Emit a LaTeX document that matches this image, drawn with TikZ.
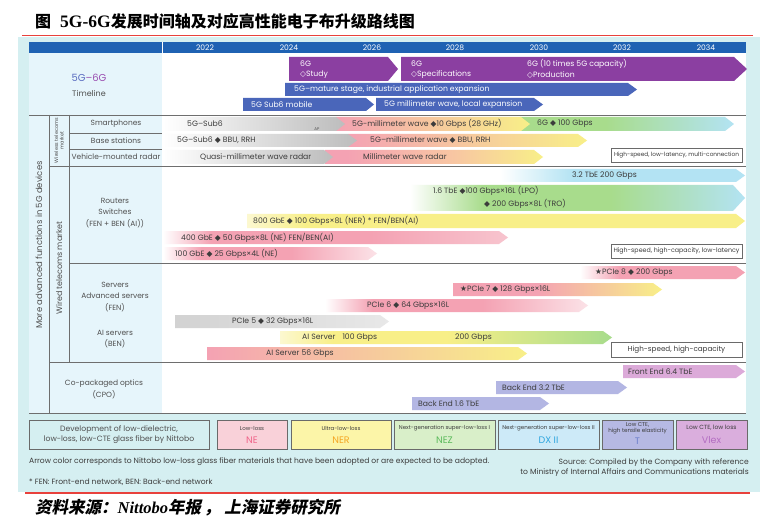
\documentclass[tikz,border=0pt]{standalone}
\usepackage{fontspec}
\setmainfont{Poppins}
\newfontfamily\symf{DejaVu Sans}
\newfontfamily\cjk{Noto Sans CJK SC}
\newfontfamily\cjksl[FakeSlant=0.2]{Noto Sans CJK SC}
\newfontfamily\tserif{Liberation Serif}
\definecolor{hdrblue}{HTML}{1F62B3}
\definecolor{bgcyan}{HTML}{D5EFF1}
\definecolor{panel}{HTML}{E6F5FB}
\definecolor{tpurple}{HTML}{8B3FA1}
\definecolor{tblue}{HTML}{4A66BA}
\definecolor{txt}{HTML}{3C3C3C}
\definecolor{sidetxt}{HTML}{505050}
\definecolor{lineg}{HTML}{6E6E6E}
\definecolor{boxg}{HTML}{6A6A6A}
\definecolor{grayA}{HTML}{BDBDBD}
\definecolor{grayB}{HTML}{D2D2D2}
\definecolor{grayC}{HTML}{E8E8E8}
\definecolor{pinkA}{HTML}{F4A2B3}
\definecolor{pinkL}{HTML}{F7C4CE}
\definecolor{pinkVL}{HTML}{FBE2E7}
\definecolor{peach}{HTML}{F8C7A2}
\definecolor{yellowA}{HTML}{F8EF88}
\definecolor{yellowP}{HTML}{FCF8D0}
\definecolor{greenA}{HTML}{A8DC8C}
\definecolor{cyanA}{HTML}{B3E3F3}
\definecolor{lavA}{HTML}{B3B6E3}
\definecolor{vlexA}{HTML}{DCAAD9}
\definecolor{legNE}{HTML}{F9D1D9}
\definecolor{legNER}{HTML}{FCF5A8}
\definecolor{legNEZ}{HTML}{D9EFC9}
\definecolor{legDX}{HTML}{CDEAF8}
\definecolor{legT}{HTML}{B6B9E3}
\definecolor{legV}{HTML}{DAAEDD}
\definecolor{cNE}{HTML}{F0658A}
\definecolor{cNER}{HTML}{F5A623}
\definecolor{cNEZ}{HTML}{5DBB5D}
\definecolor{cDX}{HTML}{2FA6DF}
\definecolor{cT}{HTML}{6C7FCB}
\definecolor{cV}{HTML}{B36DC2}
\definecolor{c5G}{HTML}{5A6CC0}
\definecolor{c6G}{HTML}{9A4EB0}
\definecolor{redl}{HTML}{E8413C}
\pgfdeclarehorizontalshading{shBlue}{100bp}{color(0bp)=(white); color(25bp)=(white); color(40bp)=(cyanA); color(100bp)=(cyanA)}
\pgfdeclarehorizontalshading{shLPO}{100bp}{color(0bp)=(white); color(25bp)=(white); color(36bp)=(greenA); color(55bp)=(greenA); color(75bp)=(cyanA); color(100bp)=(cyanA)}
\pgfdeclarehorizontalshading{shNER}{100bp}{color(0bp)=(yellowP); color(25bp)=(yellowP); color(31bp)=(yellowA); color(100bp)=(yellowA)}
\pgfdeclarehorizontalshading{shNEa}{100bp}{color(0bp)=(white); color(25bp)=(white); color(32bp)=(pinkA); color(55bp)=(pinkA); color(75bp)=(pinkL); color(100bp)=(pinkL)}
\pgfdeclarehorizontalshading{shNEb}{100bp}{color(0bp)=(white); color(25bp)=(white); color(34bp)=(pinkA); color(55bp)=(pinkA); color(75bp)=(pinkVL); color(100bp)=(pinkVL)}
\pgfdeclarehorizontalshading{shPe}{100bp}{color(0bp)=(white); color(25bp)=(white); color(37bp)=(pinkA); color(100bp)=(pinkA)}
\pgfdeclarehorizontalshading{shPs}{100bp}{color(0bp)=(pinkA); color(45bp)=(pinkA); color(75bp)=(yellowA); color(100bp)=(yellowA)}
\pgfdeclarehorizontalshading{shAI}{100bp}{color(0bp)=(yellowP); color(25bp)=(yellowP); color(33bp)=(yellowA); color(50bp)=(yellowA); color(75bp)=(greenA); color(100bp)=(greenA)}
\pgfdeclarehorizontalshading{shSix}{100bp}{color(0bp)=(greenA); color(45bp)=(greenA); color(75bp)=(cyanA); color(100bp)=(cyanA)}
\pgfdeclarehorizontalshading{shPY}{100bp}{color(0bp)=(pinkA); color(30bp)=(pinkA); color(55bp)=(peach); color(75bp)=(yellowA); color(100bp)=(yellowA)}
\newcommand\dia{{\symf ◆}}
\newcommand\odia{{\symf ◇}}
\newcommand\mystar{{\symf ★}}
\newcommand\chev[6][]{\path[#1] (#2,#3) -- ({#4-#6},#3) -- (#4,{(#3+#5)/2}) -- ({#4-#6},#5) -- (#2,#5) -- cycle;}
\tikzset{
  lbl/.style={inner sep=0, anchor=west, font=\fontsize{7.7}{9}\selectfont, text=txt},
  wlbl/.style={lbl, text=white},
  side/.style={inner sep=0, align=center, font=\fontsize{7.5}{11.8}\selectfont, text=sidetxt},
  yr/.style={inner sep=0, font=\fontsize{7.6}{9}\selectfont, text=white},
  sepl/.style={draw=lineg, line width=0.8},
  notebox/.style={draw=boxg, fill=white, line width=0.6},
  notetxt/.style={inner sep=0, font=\fontsize{6.3}{7}\selectfont, text=txt},
  legbox/.style={draw=boxg, line width=0.8},
  legsm/.style={inner sep=0, align=center, font=\fontsize{5.5}{6.4}\selectfont, text=txt},
  legbig/.style={inner sep=0, font=\fontsize{9.5}{10}\selectfont},
  foot/.style={inner sep=0, font=\fontsize{7.6}{10.5}\selectfont, text=txt},
}
\begin{document}
\begin{tikzpicture}[x=1pt,y=-1pt]
\useasboundingbox (0,0) rectangle (769,524);
% title
\node[anchor=west, inner sep=0] (title) at (35,21) {\fontsize{16}{17}\selectfont{\cjk\bfseries 图}\hspace{9pt}{\tserif\bfseries\fontsize{17.5}{17}\selectfont 5G-6G}{\cjk\bfseries 发展时间轴及对应高性能电子布升级路线图}};
\draw[redl, line width=0.8] (22,35) -- (753,35);
% background
\fill[bgcyan] (18,37) rectangle (760,492);
\draw[redl, line width=1.4] (25,493) -- (750,493);
\node[anchor=west, inner sep=0] (src) at (35,508) {\fontsize{16.5}{17}\selectfont{\cjksl\bfseries 资料来源：}{\tserif\bfseries\itshape Nittobo}{\cjksl\bfseries 年报\,，\hspace{4pt}上海证券研究所}};
% header
\fill[hdrblue] (29,42) rectangle (746,53);
\draw[white, line width=0.8] (162,42) -- (162,53);
\foreach \yy/\xx in {2022/205,2024/289,2026/372,2028/455,2030/539,2032/622,2034/706}
  \node[yr] (y\yy) at (\xx,47.8) {\yy};
\fill[panel] (29,53) rectangle (162,413);
\fill[white] (162,53) rectangle (746,413);
% timeline
\node[inner sep=0, font=\fontsize{10}{11}\selectfont] (tl1) at (89,78) {\textcolor{c5G}{5G}\textcolor{c6G}{–6G}};
\node[side, font=\fontsize{8}{10}\selectfont] (tl2) at (89,93) {Timeline};
\chev[fill=tpurple]{289}{57}{398}{81}{10}
\node[wlbl] (s1) at (300,64) {6G};
\node[wlbl] (s2) at (300,75) {\odia Study};
\chev[fill=tpurple]{401}{57}{747}{81}{13}
\node[wlbl] (s3) at (411,64) {6G};
\node[wlbl] (s4) at (411,75) {\odia Specifications};
\node[wlbl] (s5) at (527,64) {6G (10 times 5G capacity)};
\node[wlbl] (s6) at (527,75) {\odia Production};
\chev[fill=tblue]{285}{83}{637}{96}{9}
\node[wlbl] (s7) at (294,89.5) {5G–mature stage, industrial application expansion};
\chev[fill=tblue]{243}{98}{374}{111}{8}
\node[wlbl] (s8) at (251,104.5) {5G Sub6 mobile};
\chev[fill=tblue]{376}{98}{543}{111}{9}
\node[wlbl] (s9) at (384,104.5) {5G millimeter wave, local expansion};
% wireless rows
\chev[shade, shading=shSix]{520}{117}{734}{131}{9}
\chev[left color=pinkA, right color=yellowA]{336}{117}{530}{131}{9}
\chev[left color=white, middle color=grayA, right color=grayA]{163}{117}{345}{131}{9}
\node[lbl] (w1) at (187,124) {5G–Sub6};
\node[inner sep=0, font=\fontsize{4}{4}\selectfont, text=sidetxt] (w1b) at (317,129.5) {AP};
\node[lbl] (w2) at (352,124) {5G-millimeter wave \dia10 Gbps (28 GHz)};
\node[lbl] (w3) at (537,124) {6G \dia{} 100 Gbps};
\chev[left color=pinkA, right color=yellowA]{348}{134}{587}{147}{9}
\chev[left color=white, middle color=grayA, right color=grayA]{163}{134}{357}{147}{9}
\node[lbl] (w4) at (177,140.5) {5G–Sub6 \dia{} BBU, RRH};
\node[lbl] (w5) at (370,140.5) {5G–millimeter wave \dia{} BBU, RRH};
\chev[shade, shading=shPY]{325}{150}{543}{164}{9}
\chev[left color=white, right color=grayA]{163}{150}{333}{164}{9}
\node[lbl] (w6) at (200,157) {Quasi-millimeter wave radar};
\node[lbl] (w7) at (363,157) {Millimeter wave radar};
\draw[notebox] (611,148) rectangle (742,162);
\node[notetxt, font=\fontsize{5.8}{7}\selectfont] (n1) at (676.5,155) {High-speed, low-latency, multi-connection};
% routers
\chev[shade, shading=shBlue]{500}{169}{745}{182}{9}
\node[lbl] (r1) at (572,175.5) {3.2 TbE 200 Gbps};
\chev[shade, shading=shLPO]{410}{185}{745}{211}{12}
\node[lbl] (r2) at (433,191) {1.6 TbE \dia100 Gbps×16L (LPO)};
\node[lbl] (r3) at (484,204) {\dia{} 200 Gbps×8L (TRO)};
\chev[shade, shading=shNER]{247}{214}{745}{228}{9}
\node[lbl] (r4) at (253,221) {800 GbE \dia{} 100 Gbps×8L (NER) * FEN/BEN(AI)};
\chev[shade, shading=shNEa]{163}{231}{508}{244}{9}
\node[lbl] (r5) at (181,237.5) {400 GbE \dia{} 50 Gbps×8L (NE) FEN/BEN(AI)};
\chev[shade, shading=shNEb]{163}{247}{377}{260}{9}
\node[lbl] (r6) at (175,253.5) {100 GbE \dia{} 25 Gbps×4L (NE)};
\draw[notebox] (611,244) rectangle (742,258);
\node[notetxt] (n2) at (676.5,251) {High-speed, high-capacity, low-latency};
% servers
\chev[shade, shading=shPe]{580}{266}{745}{279}{9}
\node[lbl] (p1) at (595,272.5) {\mystar PCIe 8 \dia{} 200 Gbps};
\chev[shade, shading=shPs]{453}{283}{662}{296}{9}
\node[lbl] (p2) at (460,289.5) {\mystar PCIe 7 \dia{} 128 Gbps×16L};
\chev[shade, shading=shNEb]{325}{299}{588}{312}{9}
\node[lbl] (p3) at (367,305.5) {PCIe 6 \dia{} 64 Gbps×16L};
\chev[left color=grayB, right color=grayC]{175}{315}{389}{328}{9}
\node[lbl] (p4) at (232,321.5) {PCIe 5 \dia{} 32 Gbps×16L};
\chev[shade, shading=shAI]{280}{331}{612}{344}{9}
\node[lbl] (p5) at (302,337.5) {AI Server\hspace{5pt} 100 Gbps};
\node[lbl] (p6) at (455,337.5) {200 Gbps};
\chev[left color=pinkA, middle color=peach, right color=yellowA]{207}{347}{527}{360}{9}
\node[lbl] (p7) at (266,353.5) {AI Server 56 Gbps};
\draw[notebox] (611,342) rectangle (742,357);
\node[notetxt, font=\fontsize{7.2}{8}\selectfont] (n3) at (676.5,349.5) {High-speed, high-capacity};
% CPO
\chev[fill=vlexA]{623}{365}{745}{378}{9}
\node[lbl] (c1) at (628,371.5) {Front End 6.4 TbE};
\chev[fill=lavA]{496}{381}{627}{394}{9}
\node[lbl] (c2) at (502,387.5) {Back End 3.2 TbE};
\chev[fill=lavA]{412}{397}{549}{410}{9}
\node[lbl] (c3) at (418,403.5) {Back End 1.6 TbE};
% grid lines
\draw[sepl] (29,115) -- (746,115);
\draw[sepl] (69,133) -- (162,133);
\draw[sepl] (69,149) -- (162,149);
\draw[sepl] (49,166) -- (746,166);
\draw[sepl] (69,263) -- (746,263);
\draw[sepl] (49,362) -- (746,362);
\draw[sepl] (29,413) -- (746,413);
\draw[sepl] (49,115) -- (49,413);
\draw[sepl] (69,115) -- (69,362);
% side labels
\node[side] (l1) at (116,124) {Smartphones};
\node[side] (l2) at (116,141) {Base stations};
\node[side] (l3) at (116,157) {Vehicle-mounted radar};
\node[side] (l4) at (115,213) {Routers\\Switches\\(FEN + BEN (AI))};
\node[side] (l5) at (115,297) {Servers\\Advanced servers\\(FEN)};
\node[side] (l6) at (115,339) {AI servers\\(BEN)};
\node[side] (l7) at (104,389) {Co-packaged optics\\(CPO)};
\node[side, rotate=90, font=\fontsize{8.5}{10}\selectfont] (l8) at (39,245) {More advanced functions in 5G devices};
\node[side, rotate=90, font=\fontsize{8}{10}\selectfont] (l9) at (59,268) {Wired telecoms market};
\node[side, rotate=90, font=\fontsize{5}{5.6}\selectfont] (l10) at (59,140.5) {Wireless telecoms\\market};
% legend
\draw[legbox, fill=bgcyan] (29,420) rectangle (209,449);
\node[side, font=\fontsize{7.7}{10}\selectfont] (g0) at (119,434.5) {Development of low-dielectric,\\low-loss, low-CTE glass fiber by Nittobo};
\draw[legbox, fill=legNE] (217,420) rectangle (287,449);
\node[legsm] (g1a) at (252,428) {Low-loss};
\node[legbig, text=cNE] (g1b) at (252,440.5) {NE};
\draw[legbox, fill=legNER] (291,420) rectangle (391,449);
\node[legsm] (g2a) at (341,428) {Ultra-low-loss};
\node[legbig, text=cNER] (g2b) at (341,440.5) {NER};
\draw[legbox, fill=legNEZ] (394,420) rectangle (495,449);
\node[legsm] (g3a) at (444.5,428) {Next-generation super-low-loss I};
\node[legbig, text=cNEZ] (g3b) at (444.5,440.5) {NEZ};
\draw[legbox, fill=legDX] (498,420) rectangle (599,449);
\node[legsm] (g4a) at (548.5,428) {Next-generation super-low-loss II};
\node[legbig, text=cDX] (g4b) at (548.5,440.5) {DX II};
\draw[legbox, fill=legT] (602,420) rectangle (673,449);
\node[legsm, font=\fontsize{5.6}{6.4}\selectfont] (g5a) at (637.5,428.5) {Low CTE,\\high tensile elasticity};
\node[legbig, text=cT] (g5b) at (637.5,441.5) {T};
\draw[legbox, fill=legV] (676,420) rectangle (747,449);
\node[legsm, font=\fontsize{6}{7}\selectfont] (g6a) at (711.5,428) {Low CTE, low loss};
\node[legbig, text=cV] (g6b) at (711.5,440.5) {Vlex};
% footnotes
\node[foot, anchor=west] (f1) at (29,462) {Arrow color corresponds to Nittobo low-loss glass fiber materials that have been adopted or are expected to be adopted.};
\node[foot, anchor=west] (f2) at (29,482) {* FEN: Front-end network, BEN: Back-end network};
\node[foot, anchor=east, align=right] (f3) at (749,467.5) {Source: Compiled by the Company with reference\\to Ministry of Internal Affairs and Communications materials};
\end{tikzpicture}
\end{document}
